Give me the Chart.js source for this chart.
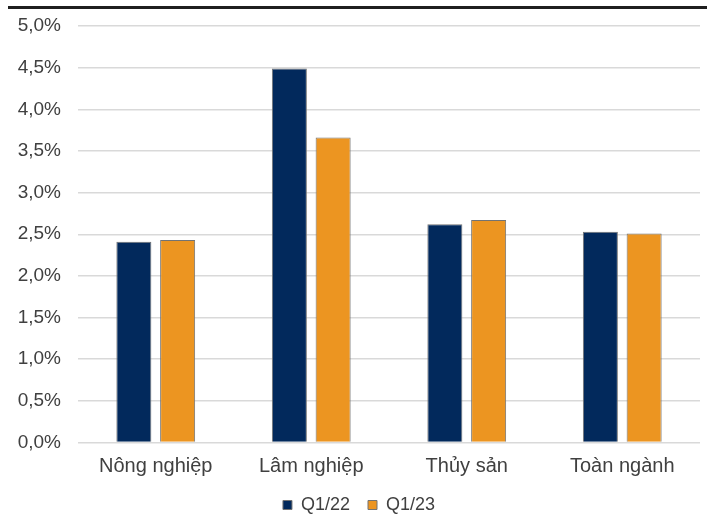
<!DOCTYPE html>
<html>
<head>
<meta charset="utf-8">
<script src="https://cdn.jsdelivr.net/npm/chart.js@4/dist/chart.umd.min.js"></script>
<style>
    html, body { margin: 0; padding: 0; background: #fff; }
    #wrap { position: relative; width: 707px; height: 516px; }
    #topRule { position: absolute; left: 8px; top: 6px; width: 699px; height: 3px; background: #1f1f1f; }
</style>
</head>
<body>
<div id="wrap">
    <div id="topRule"></div>
    <canvas id="rateChart"></canvas>
</div>
<script>
// Tỷ lệ theo ngành, Q1/22 so với Q1/23 (%)
const categories = ['Nông nghiệp', 'Lâm nghiệp', 'Thủy sản', 'Toàn ngành'];
const q122 = [2.41, 4.49, 2.62, 2.53];
const q123 = [2.43, 3.66, 2.67, 2.51];
const seriesNames = ['Q1/22', 'Q1/23'];

const textColor = '#404040';
const fontFamily = '"Liberation Sans", Arial, sans-serif';

const ctx = document.getElementById('rateChart');
new Chart(ctx, {
    type: 'bar',
    data: {
        labels: categories,
        datasets: [
            {
                label: seriesNames[0],
                data: q122,
                backgroundColor: '#02295c',
                borderColor: '#737373',
                borderWidth: 1
            },
            {
                label: seriesNames[1],
                data: q123,
                backgroundColor: '#ec9521',
                borderColor: '#737373',
                borderWidth: 1
            }
        ]
    },
    options: {
        responsive: true,
        maintainAspectRatio: false,
        animation: false,
        datasets: { bar: { categoryPercentage: 0.563, barPercentage: 0.8 } },
        layout: { padding: { left: 18, right: 7, top: 26, bottom: -8 } },
        plugins: {
            tooltip: { enabled: false },
            legend: {
                position: 'bottom',
                labels: {
                    boxWidth: 9,
                    boxHeight: 9,
                    padding: 18,
                    color: textColor,
                    font: { family: fontFamily, size: 18 }
                }
            }
        },
        scales: {
            x: {
                grid: { display: false, drawTicks: false },
                border: { display: false },
                // tight axis box so the legend sits close under the category names
                afterFit: function (scale) { scale.height = 35.5; },
                ticks: {
                    color: textColor,
                    padding: 12,
                    font: { family: fontFamily, size: 20 }
                }
            },
            y: {
                min: 0,
                max: 5,
                afterFit: function (scale) {
                    scale.width = 60;
                    scale.paddingTop = 0;
                },
                grid: { color: '#d9d9d9', lineWidth: 1.5, drawTicks: false },
                border: { display: false },
                ticks: {
                    stepSize: 0.5,
                    padding: 17,
                    color: textColor,
                    font: { family: fontFamily, size: 19 },
                    callback: function (v) { return v.toFixed(1).replace('.', ',') + '%'; }
                }
            }
        }
    }
});
</script>
</body>
</html>
